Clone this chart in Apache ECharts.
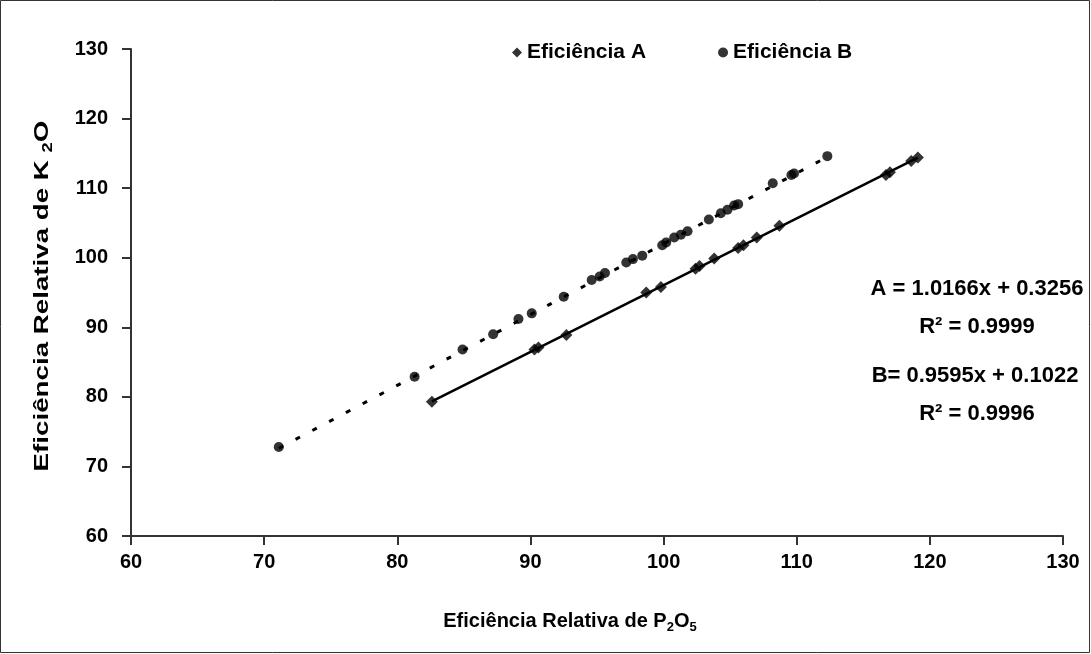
<!DOCTYPE html>
<html>
<head>
<meta charset="utf-8">
<script src="https://cdn.jsdelivr.net/npm/echarts@6/dist/echarts.min.js"></script>
<style>
  html, body { margin: 0; padding: 0; background: #ffffff; }
  #chart { width: 1091px; height: 654px; }
</style>
</head>
<body>
<div id="chart"></div>
<script>
// Axis ticks (both axes share the same range)
const axisTicks = [60, 70, 80, 90, 100, 110, 120, 130];

// Eficiência A: diamond markers, [P2O5, K2O]
const eficienciaA = [
  [82.6, 79.3], [90.3, 86.8], [90.6, 87.1], [92.7, 88.9], [98.7, 95.0],
  [99.8, 95.8], [102.4, 98.4], [102.7, 98.8], [103.8, 99.9], [105.6, 101.4],
  [106.0, 101.8], [107.0, 102.9], [108.7, 104.6], [116.7, 111.9], [117.0, 112.3],
  [118.6, 113.9], [119.1, 114.4]
];

// Eficiência B: round markers, [P2O5, K2O]
const eficienciaB = [
  [71.1, 72.8], [81.3, 82.9], [84.9, 86.8], [87.2, 89.0], [89.1, 91.2],
  [90.1, 92.0], [92.5, 94.4], [94.6, 96.8], [95.2, 97.3], [95.6, 97.8],
  [97.2, 99.3], [97.7, 99.8], [98.4, 100.3], [99.9, 101.8], [100.2, 102.2],
  [100.8, 102.9], [101.3, 103.3], [101.8, 103.8], [103.4, 105.5], [104.3, 106.4],
  [104.8, 106.9], [105.3, 107.5], [105.6, 107.7], [108.2, 110.7], [109.6, 111.9],
  [109.8, 112.1], [112.3, 114.6]
];

// Linear trend equations shown in the text box
const equationA = { prefix: 'A = ', slope: 1.0166, intercept: 0.3256, r2: '0.9999' };
const equationB = { prefix: 'B= ', slope: 0.9595, intercept: 0.1022, r2: '0.9996' };

const FONT = '"Liberation Sans", Arial, sans-serif';

// End points of a trend line over the x-range of the points it fits
function trendLine(eq, points) {
  const xs = points.map(p => p[0]);
  const x0 = Math.min.apply(null, xs), x1 = Math.max.apply(null, xs);
  return [[x0, eq.slope * x0 + eq.intercept], [x1, eq.slope * x1 + eq.intercept]];
}
function equationText(eq) {
  return eq.prefix + eq.slope.toFixed(4) + 'x + ' + eq.intercept.toFixed(4);
}

const chart = echarts.init(document.getElementById('chart'), null, { renderer: 'canvas' });

const axisCommon = {
  type: 'value',
  min: axisTicks[0],
  max: axisTicks[axisTicks.length - 1],
  interval: axisTicks[1] - axisTicks[0],
  splitLine: { show: false },
  axisLine: { show: true, lineStyle: { color: '#333', width: 2 } },
  axisTick: { show: true, inside: false, length: 9, lineStyle: { color: '#333', width: 2 } },
  axisLabel: { color: '#000', fontSize: 20, fontWeight: 'bold', fontFamily: FONT }
};

const eqStyle = { fill: '#000', fontSize: 22, fontWeight: 'bold', fontFamily: FONT, align: 'center', verticalAlign: 'middle' };
function titleRich(size) {
  return {
    t: { fontSize: size, fontWeight: 'bold', fontFamily: FONT, color: '#000', lineHeight: 26, verticalAlign: 'middle' },
    s: { fontSize: Math.round(size * 0.65), fontWeight: 'bold', fontFamily: FONT, color: '#000', lineHeight: 26, verticalAlign: 'bottom' }
  };
}

chart.setOption({
  animation: false,
  backgroundColor: '#ffffff',
  grid: { left: 131, right: 28, top: 49, bottom: 118, containLabel: false },
  legend: {
    left: 507,
    top: 37,
    itemWidth: 10,
    itemHeight: 10,
    itemGap: 72,
    data: [
      { name: 'Eficiência A', icon: 'diamond' },
      { name: 'Eficiência B', icon: 'circle' }
    ],
    textStyle: { color: '#000', fontSize: 21, fontWeight: 'bold', fontFamily: FONT }
  },
  xAxis: Object.assign({}, axisCommon, {
    axisLabel: Object.assign({}, axisCommon.axisLabel, { margin: 16 })
  }),
  yAxis: Object.assign({}, axisCommon, {
    axisLabel: Object.assign({}, axisCommon.axisLabel, { margin: 23 })
  }),
  series: [
    {
      name: 'Eficiência A',
      type: 'scatter',
      symbol: 'diamond',
      symbolSize: 12,
      itemStyle: { color: '#000' },
      data: eficienciaA,
      z: 3
    },
    {
      name: 'Eficiência B',
      type: 'scatter',
      symbol: 'circle',
      symbolSize: 10,
      itemStyle: { color: '#000' },
      data: eficienciaB,
      z: 3
    },
    {
      name: 'tendência B',
      type: 'line',
      data: trendLine(equationB, eficienciaA),
      symbol: 'none',
      silent: true,
      lineStyle: { color: '#000', width: 2.5, type: 'solid' },
      z: 2
    },
    {
      name: 'tendência A',
      type: 'line',
      data: trendLine(equationA, eficienciaB),
      symbol: 'none',
      silent: true,
      lineStyle: { color: '#000', width: 3, type: [5, 14] },
      z: 2
    }
  ],
  graphic: [
    {
      type: 'rect',
      shape: { x: 0.5, y: 0.5, width: 1089, height: 652 },
      style: { fill: 'none', stroke: '#333', lineWidth: 1 },
      silent: true
    },
    {
      type: 'text', x: 977, y: 289,
      style: Object.assign({ text: equationText(equationA) }, eqStyle)
    },
    {
      type: 'text', x: 977, y: 327,
      style: Object.assign({ text: 'R² = ' + equationA.r2 }, eqStyle)
    },
    {
      type: 'text', x: 975, y: 376,
      style: Object.assign({ text: equationText(equationB) }, eqStyle)
    },
    {
      type: 'text', x: 977, y: 414,
      style: Object.assign({ text: 'R² = ' + equationB.r2 }, eqStyle)
    },
    {
      type: 'text', x: 570, y: 621,
      style: {
        text: '{t|Eficiência Relativa de P}{s|2}{t|O}{s|5}',
        rich: titleRich(20), align: 'center', verticalAlign: 'middle'
      }
    },
    {
      type: 'text', x: 42, y: 296, rotation: Math.PI / 2, scaleX: 1.32,
      style: {
        text: '{t|Eficiência Relativa de K }{s|2}{t|O}',
        rich: titleRich(21), align: 'center', verticalAlign: 'middle'
      }
    }
  ]
});
</script>
</body>
</html>
